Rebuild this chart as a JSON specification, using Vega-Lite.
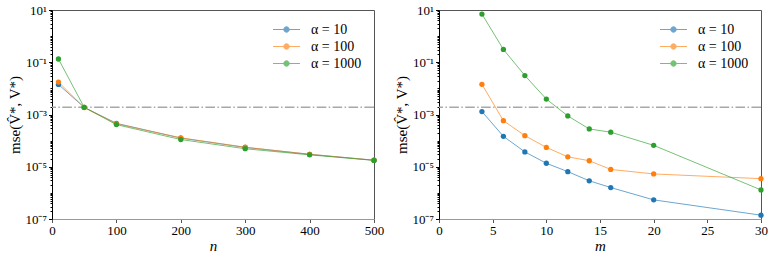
{
  "$schema": "https://vega.github.io/schema/vega-lite/v6.json",
  "padding": {"left": 6, "top": 3, "right": 5, "bottom": 0},
  "datasets": {
    "series": [
      {"panel": "n", "x": 10, "alpha": "α = 10", "mse": 0.0141},
      {"panel": "n", "x": 50, "alpha": "α = 10", "mse": 0.00188},
      {"panel": "n", "x": 100, "alpha": "α = 10", "mse": 0.00046},
      {"panel": "n", "x": 200, "alpha": "α = 10", "mse": 0.000125},
      {"panel": "n", "x": 300, "alpha": "α = 10", "mse": 0.000055},
      {"panel": "n", "x": 400, "alpha": "α = 10", "mse": 0.00003},
      {"panel": "n", "x": 500, "alpha": "α = 10", "mse": 0.0000178},
      {"panel": "n", "x": 10, "alpha": "α = 100", "mse": 0.0175},
      {"panel": "n", "x": 50, "alpha": "α = 100", "mse": 0.00185},
      {"panel": "n", "x": 100, "alpha": "α = 100", "mse": 0.00044},
      {"panel": "n", "x": 200, "alpha": "α = 100", "mse": 0.000128},
      {"panel": "n", "x": 300, "alpha": "α = 100", "mse": 0.000056},
      {"panel": "n", "x": 400, "alpha": "α = 100", "mse": 0.00003},
      {"panel": "n", "x": 500, "alpha": "α = 100", "mse": 0.0000178},
      {"panel": "n", "x": 10, "alpha": "α = 1000", "mse": 0.133},
      {"panel": "n", "x": 50, "alpha": "α = 1000", "mse": 0.00188},
      {"panel": "n", "x": 100, "alpha": "α = 1000", "mse": 0.00041},
      {"panel": "n", "x": 200, "alpha": "α = 1000", "mse": 0.00011},
      {"panel": "n", "x": 300, "alpha": "α = 1000", "mse": 0.000049},
      {"panel": "n", "x": 400, "alpha": "α = 1000", "mse": 0.0000285},
      {"panel": "n", "x": 500, "alpha": "α = 1000", "mse": 0.0000175},
      {"panel": "m", "x": 4, "alpha": "α = 10", "mse": 0.0013},
      {"panel": "m", "x": 6, "alpha": "α = 10", "mse": 0.000146},
      {"panel": "m", "x": 8, "alpha": "α = 10", "mse": 0.000037},
      {"panel": "m", "x": 10, "alpha": "α = 10", "mse": 0.0000136},
      {"panel": "m", "x": 12, "alpha": "α = 10", "mse": 0.0000065},
      {"panel": "m", "x": 14, "alpha": "α = 10", "mse": 0.0000029},
      {"panel": "m", "x": 16, "alpha": "α = 10", "mse": 0.0000016},
      {"panel": "m", "x": 20, "alpha": "α = 10", "mse": 0.00000054},
      {"panel": "m", "x": 30, "alpha": "α = 10", "mse": 0.00000014},
      {"panel": "m", "x": 4, "alpha": "α = 100", "mse": 0.0143},
      {"panel": "m", "x": 6, "alpha": "α = 100", "mse": 0.00058},
      {"panel": "m", "x": 8, "alpha": "α = 100", "mse": 0.000155},
      {"panel": "m", "x": 10, "alpha": "α = 100", "mse": 0.000055},
      {"panel": "m", "x": 12, "alpha": "α = 100", "mse": 0.000024},
      {"panel": "m", "x": 14, "alpha": "α = 100", "mse": 0.000017},
      {"panel": "m", "x": 16, "alpha": "α = 100", "mse": 0.0000079},
      {"panel": "m", "x": 20, "alpha": "α = 100", "mse": 0.0000053},
      {"panel": "m", "x": 30, "alpha": "α = 100", "mse": 0.0000035},
      {"panel": "m", "x": 4, "alpha": "α = 1000", "mse": 7.0},
      {"panel": "m", "x": 6, "alpha": "α = 1000", "mse": 0.31},
      {"panel": "m", "x": 8, "alpha": "α = 1000", "mse": 0.031},
      {"panel": "m", "x": 10, "alpha": "α = 1000", "mse": 0.0039},
      {"panel": "m", "x": 12, "alpha": "α = 1000", "mse": 0.00088},
      {"panel": "m", "x": 14, "alpha": "α = 1000", "mse": 0.00028},
      {"panel": "m", "x": 16, "alpha": "α = 1000", "mse": 0.00021},
      {"panel": "m", "x": 20, "alpha": "α = 1000", "mse": 0.000066},
      {"panel": "m", "x": 30, "alpha": "α = 1000", "mse": 0.0000013}
    ],
    "ref": [{"thr": 0.0019}]
  },
  "resolve": {"scale": {"color": "independent"}},
  "spacing": 8,
  "hconcat": [
    {
      "width": 322,
      "height": 209,
      "layer": [
        {
          "data": {"name": "ref"},
          "mark": {"type": "rule", "color": "#a8a8a8", "strokeWidth": 1.5, "strokeDash": [9.6, 2.4, 1.5, 2.4]},
          "encoding": {"y": {"field": "thr", "type": "quantitative", "title": "mse(V̂*, V*)"}}
        },
        {
          "data": {"name": "series"},
          "transform": [{"filter": "datum.panel == 'n'"}],
          "mark": {"type": "line", "strokeWidth": 1, "opacity": 0.65},
          "encoding": {
            "x": {"field": "x", "type": "quantitative", "title": "n", "scale": {"domain": [0, 500], "nice": false},
              "axis": {"values": [0, 100, 200, 300, 400, 500], "labelFlush": false, "domainColor": "#999", "tickColor": "#555", "tickSize": 3.5, "titleFontStyle": "italic", "titlePadding": 1, "labelPadding": 2}},
            "y": {"field": "mse", "type": "quantitative", "title": "mse(V̂*, V*)",
              "scale": {"type": "log", "domain": [1e-7, 10], "nice": false},
              "axis": {"values": [1e-7,2e-7,3e-7,4e-7,5e-7,6e-7,7e-7,8e-7,9e-7,1e-6,2e-6,3e-6,4e-6,5e-6,6e-6,7e-6,8e-6,9e-6,1e-5,2e-5,3e-5,4e-5,5e-5,6e-5,7e-5,8e-5,9e-5,1e-4,2e-4,3e-4,4e-4,5e-4,6e-4,7e-4,8e-4,9e-4,0.001,0.002,0.003,0.004,0.005,0.006,0.007,0.008,0.009,0.01,0.02,0.03,0.04,0.05,0.06,0.07,0.08,0.09,0.1,0.2,0.3,0.4,0.5,0.6,0.7,0.8,0.9,1,2,3,4,5,6,7,8,9,10],
                "labelExpr": "datum.value == 10 ? '10¹' : datum.value == 0.1 ? '10⁻¹' : datum.value == 0.001 ? '10⁻³' : datum.value == 0.00001 ? '10⁻⁵' : datum.value == 0.0000001 ? '10⁻⁷' : ''",
                "tickSize": {"condition": {"test": "indexof([10, 0.1, 0.001, 0.00001, 0.0000001], datum.value) >= 0", "value": 3.5}, "value": 2},
                "labelOverlap": false, "labelFlush": false, "labelPadding": 2, "domainColor": "#000", "tickColor": "#000",
                "minExtent": 26, "maxExtent": 26, "titlePadding": 4}},
            "color": {"field": "alpha", "type": "nominal", "scale": {"domain": ["α = 10", "α = 100", "α = 1000"], "range": ["#1f77b4", "#ff7f0e", "#2ca02c"]},
              "legend": {"orient": "top-right", "offset": 12, "padding": 0, "title": null, "labelFontSize": 14, "symbolType": "M-2,0H2M-0.4,0A0.4,0.4,0,1,1,0.4,0A0.4,0.4,0,1,1,-0.4,0Z", "symbolSize": 182, "symbolStrokeWidth": 1, "rowPadding": 2, "labelOffset": 17,
                "encode": {"symbols": {"update": {"fill": {"signal": "datum.value == 'α = 10' ? '#1f77b4' : datum.value == 'α = 100' ? '#ff7f0e' : '#2ca02c'"}, "stroke": {"signal": "datum.value == 'α = 10' ? '#1f77b4' : datum.value == 'α = 100' ? '#ff7f0e' : '#2ca02c'"}, "opacity": {"value": 1}, "fillOpacity": {"value": 1}, "strokeOpacity": {"value": 0.7}}}}}}
          }
        },
        {
          "data": {"name": "series"},
          "transform": [{"filter": "datum.panel == 'n'"}],
          "mark": {"type": "point", "filled": true, "size": 28, "opacity": 1},
          "encoding": {
            "x": {"field": "x", "type": "quantitative", "title": "n"},
            "y": {"field": "mse", "type": "quantitative", "title": "mse(V̂*, V*)"},
            "color": {"field": "alpha", "type": "nominal"}
          }
        }
      ]
    },
    {
      "width": 322,
      "height": 209,
      "layer": [
        {
          "data": {"name": "ref"},
          "mark": {"type": "rule", "color": "#a8a8a8", "strokeWidth": 1.5, "strokeDash": [9.6, 2.4, 1.5, 2.4]},
          "encoding": {"y": {"field": "thr", "type": "quantitative", "title": "mse(V̂*, V*)"}}
        },
        {
          "data": {"name": "series"},
          "transform": [{"filter": "datum.panel == 'm'"}],
          "mark": {"type": "line", "strokeWidth": 1, "opacity": 0.65},
          "encoding": {
            "x": {"field": "x", "type": "quantitative", "title": "m", "scale": {"domain": [0, 30], "nice": false},
              "axis": {"values": [0, 5, 10, 15, 20, 25, 30], "labelFlush": false, "domainColor": "#999", "tickColor": "#555", "tickSize": 3.5, "titleFontStyle": "italic", "titlePadding": 1, "labelPadding": 2}},
            "y": {"field": "mse", "type": "quantitative", "title": "mse(V̂*, V*)",
              "scale": {"type": "log", "domain": [1e-7, 10], "nice": false},
              "axis": {"values": [1e-7,2e-7,3e-7,4e-7,5e-7,6e-7,7e-7,8e-7,9e-7,1e-6,2e-6,3e-6,4e-6,5e-6,6e-6,7e-6,8e-6,9e-6,1e-5,2e-5,3e-5,4e-5,5e-5,6e-5,7e-5,8e-5,9e-5,1e-4,2e-4,3e-4,4e-4,5e-4,6e-4,7e-4,8e-4,9e-4,0.001,0.002,0.003,0.004,0.005,0.006,0.007,0.008,0.009,0.01,0.02,0.03,0.04,0.05,0.06,0.07,0.08,0.09,0.1,0.2,0.3,0.4,0.5,0.6,0.7,0.8,0.9,1,2,3,4,5,6,7,8,9,10],
                "labelExpr": "datum.value == 10 ? '10¹' : datum.value == 0.1 ? '10⁻¹' : datum.value == 0.001 ? '10⁻³' : datum.value == 0.00001 ? '10⁻⁵' : datum.value == 0.0000001 ? '10⁻⁷' : ''",
                "tickSize": {"condition": {"test": "indexof([10, 0.1, 0.001, 0.00001, 0.0000001], datum.value) >= 0", "value": 3.5}, "value": 2},
                "labelOverlap": false, "labelFlush": false, "labelPadding": 2, "domainColor": "#000", "tickColor": "#000",
                "minExtent": 26, "maxExtent": 26, "titlePadding": 4}},
            "color": {"field": "alpha", "type": "nominal", "scale": {"domain": ["α = 10", "α = 100", "α = 1000"], "range": ["#1f77b4", "#ff7f0e", "#2ca02c"]},
              "legend": {"orient": "top-right", "offset": 12, "padding": 0, "title": null, "labelFontSize": 14, "symbolType": "M-2,0H2M-0.4,0A0.4,0.4,0,1,1,0.4,0A0.4,0.4,0,1,1,-0.4,0Z", "symbolSize": 182, "symbolStrokeWidth": 1, "rowPadding": 2, "labelOffset": 17,
                "encode": {"symbols": {"update": {"fill": {"signal": "datum.value == 'α = 10' ? '#1f77b4' : datum.value == 'α = 100' ? '#ff7f0e' : '#2ca02c'"}, "stroke": {"signal": "datum.value == 'α = 10' ? '#1f77b4' : datum.value == 'α = 100' ? '#ff7f0e' : '#2ca02c'"}, "opacity": {"value": 1}, "fillOpacity": {"value": 1}, "strokeOpacity": {"value": 0.7}}}}}}
          }
        },
        {
          "data": {"name": "series"},
          "transform": [{"filter": "datum.panel == 'm'"}],
          "mark": {"type": "point", "filled": true, "size": 28, "opacity": 1},
          "encoding": {
            "x": {"field": "x", "type": "quantitative", "title": "m"},
            "y": {"field": "mse", "type": "quantitative", "title": "mse(V̂*, V*)"},
            "color": {"field": "alpha", "type": "nominal"}
          }
        }
      ]
    }
  ],
  "config": {
    "font": "Liberation Serif",
    "view": {"stroke": "#555", "strokeWidth": 1},
    "axis": {"labelFont": "Liberation Serif", "titleFont": "Liberation Serif", "labelFontSize": 13, "titleFontSize": 15, "labelColor": "#000", "titleColor": "#000", "titleFontWeight": "normal", "grid": false},
    "legend": {"labelFont": "Liberation Serif", "labelColor": "#000"}
  }
}
